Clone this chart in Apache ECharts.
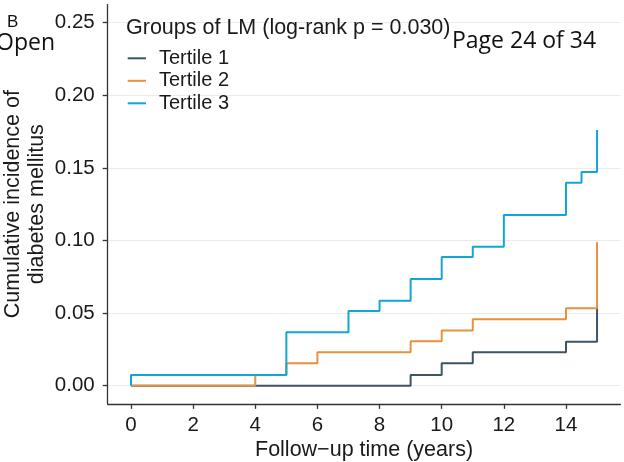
<!DOCTYPE html>
<html>
<head>
<meta charset="utf-8">
<script src="https://cdn.jsdelivr.net/npm/echarts@6/dist/echarts.min.js"></script>
<style>
html,body{margin:0;padding:0;background:#fff;}
#chart{width:624px;height:462px;}
</style>
</head>
<body>
<div id="chart"></div>
<script>
// ---- data ----
const seriesNames = ['Tertile 1', 'Tertile 2', 'Tertile 3'];
const timesT1 = [0, 9, 10, 11, 14, 15];
const valuesT1 = [0, 0.0074, 0.0154, 0.0230, 0.0303, 0.0533];
const timesT2 = [0, 4, 5, 6, 9, 10, 11, 14, 15];
const valuesT2 = [0, 0.0074, 0.0154, 0.0230, 0.0306, 0.0381, 0.0457, 0.0533, 0.0988];
const timesT3 = [0, 0, 5, 7, 8, 9, 10, 11, 12, 14, 14.5, 15];
const valuesT3 = [0, 0.0074, 0.0368, 0.0514, 0.0585, 0.0735, 0.0886, 0.0957, 0.1176, 0.1398, 0.1472, 0.1761];
const xTicks = [0, 2, 4, 6, 8, 10, 12, 14];
const yTicks = [0, 0.05, 0.10, 0.15, 0.20, 0.25];
const legendTitle = 'Groups of LM (log-rank p = 0.030)';
const xName = 'Follow\u2212up time (years)';
const yName = 'Cumulative incidence of\ndiabetes mellitus';

const colors = ['#3c5561', '#e5913e', '#14a5d8'];
const FONT = '"Liberation Sans", Arial, sans-serif';

function pairs(ts, vs) { return ts.map((t, i) => [t, vs[i]]); }

const chart = echarts.init(document.getElementById('chart'), null, {renderer: 'canvas'});
const option = {
  animation: false,
  backgroundColor: '#fff',
  title: {
    text: legendTitle,
    left: 126, top: 17, padding: 0,
    textStyle: {fontFamily: FONT, fontSize: 21.5, fontWeight: 'normal', color: '#1a1a1a'}
  },
  legend: {
    orient: 'vertical',
    left: 127.7, top: 47.3, padding: 0,
    itemGap: 0.5,
    itemWidth: 18.3, itemHeight: 2,
    icon: 'rect',
    data: seriesNames,
    textStyle: {fontFamily: FONT, fontSize: 20, color: '#1a1a1a', lineHeight: 22, padding: [0, 0, 0, 8]}
  },
  grid: [
    {left: 107.7, right: 3.65, top: 4.55, bottom: 58.15, outerBoundsMode: 'none', containLabel: false},
    {left: 107.7, right: 3.65, top: 22.7, bottom: 76.3, outerBoundsMode: 'none', containLabel: false},
    {left: 131, right: 26.95, top: 4.55, bottom: 58.15, outerBoundsMode: 'none', containLabel: false}
  ],
  xAxis: [
    {
      gridIndex: 0, type: 'value', min: -0.75, max: 15.75,
      name: xName, nameLocation: 'middle', nameGap: 35,
      nameTextStyle: {fontFamily: FONT, fontSize: 21.5, color: '#1a1a1a'},
      axisLine: {show: true, onZero: false, lineStyle: {color: '#333', width: 1.3}},
      axisTick: {show: false}, axisLabel: {show: false}, splitLine: {show: false}
    },
    {gridIndex: 1, type: 'value', min: 0, max: 15, show: false},
    {
      gridIndex: 2, type: 'value', min: 0, max: 15, interval: 2,
      axisLine: {show: false},
      axisTick: {show: true, length: 5, lineStyle: {color: '#333', width: 1.3}, customValues: xTicks},
      axisLabel: {show: true, margin: 11, fontFamily: FONT, fontSize: 20.5, color: '#1a1a1a', customValues: xTicks},
      splitLine: {show: false}
    }
  ],
  yAxis: [
    {
      gridIndex: 0, type: 'value', min: -0.0125, max: 0.2625,
      name: yName, nameLocation: 'middle', nameGap: 59,
      nameTextStyle: {fontFamily: FONT, fontSize: 21.5, color: '#1a1a1a', lineHeight: 24, align: 'center'},
      axisLine: {show: true, onZero: false, lineStyle: {color: '#333', width: 1.3}},
      axisTick: {show: false}, axisLabel: {show: false}, splitLine: {show: false}
    },
    {
      gridIndex: 1, type: 'value', min: 0, max: 0.25, interval: 0.05,
      axisLine: {show: false},
      axisTick: {show: true, length: 5, lineStyle: {color: '#333', width: 1.3}},
      axisLabel: {show: true, margin: 13, fontFamily: FONT, fontSize: 20.5, color: '#1a1a1a',
        formatter: v => v.toFixed(2)},
      splitLine: {show: true, lineStyle: {color: '#ebebeb', width: 1}}
    },
    {gridIndex: 2, type: 'value', min: 0, max: 0.25, show: false}
  ],
  series: [
    {name: seriesNames[0], type: 'line', xAxisIndex: 0, yAxisIndex: 0, step: 'end',
     showSymbol: false, color: colors[0], lineStyle: {width: 2, color: colors[0]},
     data: pairs(timesT1, valuesT1)},
    {name: seriesNames[1], type: 'line', xAxisIndex: 0, yAxisIndex: 0, step: 'end',
     showSymbol: false, color: colors[1], lineStyle: {width: 2, color: colors[1]},
     data: pairs(timesT2, valuesT2)},
    {name: seriesNames[2], type: 'line', xAxisIndex: 0, yAxisIndex: 0, step: 'end',
     showSymbol: false, color: colors[2], lineStyle: {width: 2, color: colors[2]},
     data: pairs(timesT3, valuesT3)}
  ],
  graphic: [
    {type: 'text', left: 7, top: 14, z: 100,
     style: {text: 'B', font: '17px "Liberation Sans", Arial, sans-serif', fill: '#111'}},
    {type: 'text', left: -4, top: 32, z: 100,
     style: {text: 'Open', font: '23px "Open Sans", sans-serif', fill: '#111'}},
    {type: 'text', left: 452, top: 30, z: 100,
     style: {text: 'Page 24 of 34', font: '23px "Open Sans", sans-serif', fill: '#111'}}
  ]
};
chart.setOption(option);
</script>
</body>
</html>
